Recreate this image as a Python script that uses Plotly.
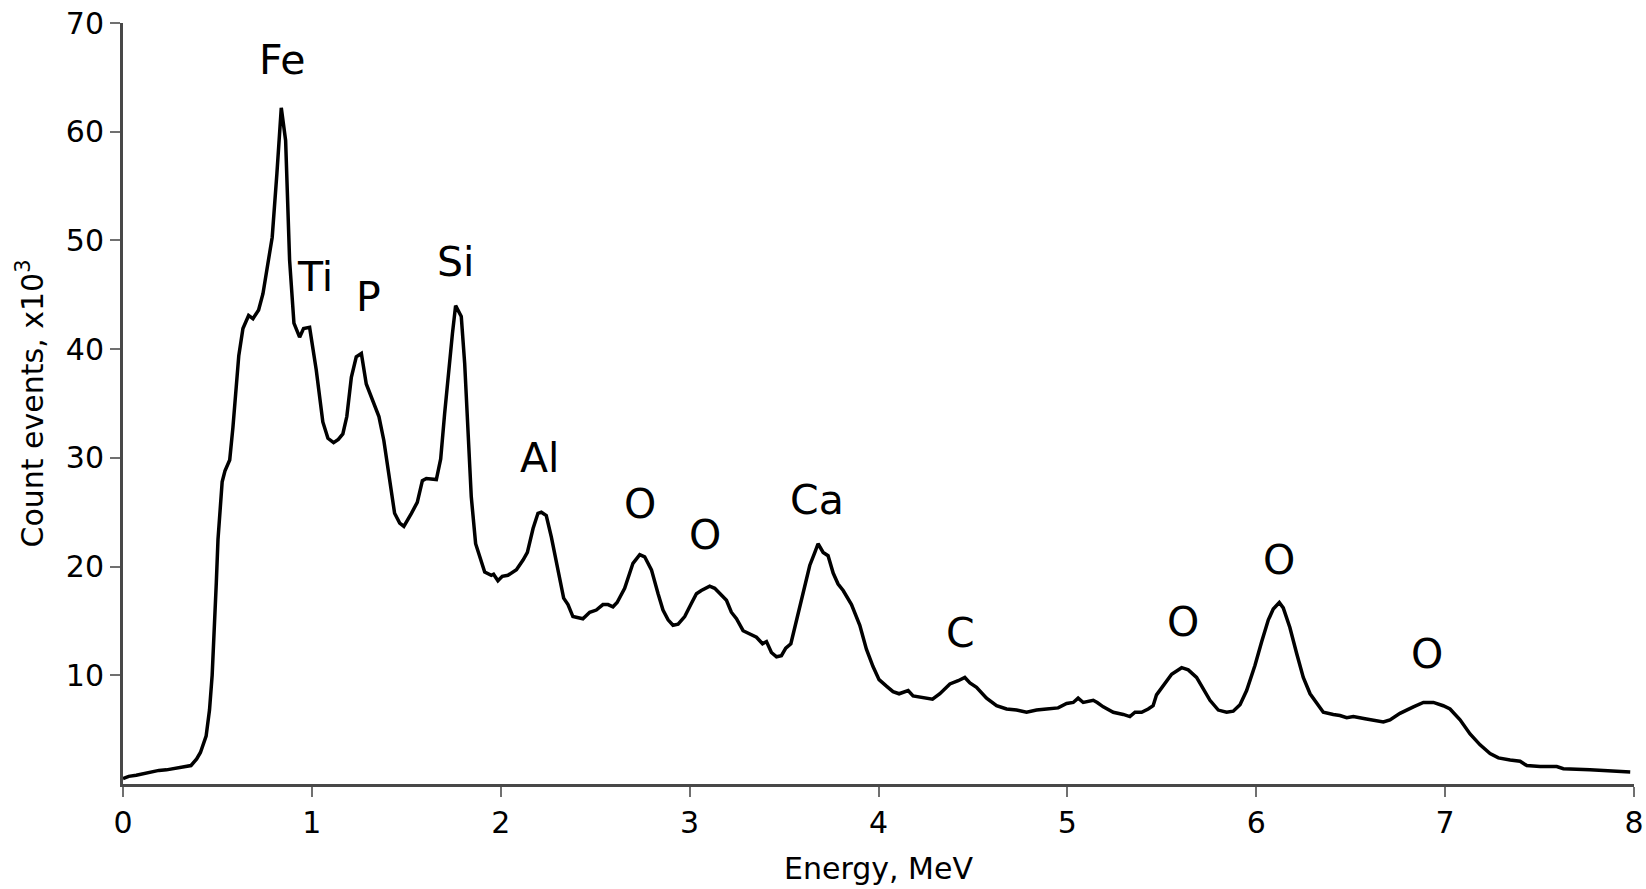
import plotly.graph_objects as go

# Energy (MeV) and count events (x10^3)
energy = [0.00, 0.03, 0.07, 0.14, 0.19, 0.23, 0.30, 0.36, 0.39, 0.41, 0.44, 0.458, 0.472, 0.485, 0.494,
          0.503, 0.512, 0.525, 0.54, 0.565, 0.582, 0.60, 0.613, 0.635, 0.665, 0.688, 0.718, 0.741, 0.767,
          0.79, 0.815, 0.838, 0.861, 0.882, 0.905, 0.935, 0.956, 0.988, 1.023, 1.058, 1.085, 1.115, 1.14,
          1.164, 1.185, 1.209, 1.235, 1.262, 1.288, 1.315, 1.355, 1.381, 1.412, 1.438, 1.465, 1.487, 1.527,
          1.558, 1.585, 1.606, 1.659, 1.682, 1.703, 1.726, 1.744, 1.761, 1.791, 1.809, 1.826, 1.844, 1.867,
          1.897, 1.915, 1.95, 1.962, 1.985, 2.008, 2.038, 2.083, 2.118, 2.141, 2.171, 2.197, 2.215, 2.241,
          2.268, 2.303, 2.333, 2.356, 2.382, 2.435, 2.471, 2.506, 2.541, 2.568, 2.594, 2.616, 2.656, 2.70,
          2.736, 2.762, 2.798, 2.833, 2.859, 2.886, 2.912, 2.939, 2.974, 3.009, 3.036, 3.062, 3.106, 3.133,
          3.159, 3.195, 3.221, 3.248, 3.283, 3.318, 3.354, 3.386, 3.407, 3.433, 3.46, 3.486, 3.509, 3.536,
          3.566, 3.601, 3.636, 3.663, 3.68, 3.707, 3.733, 3.76, 3.786, 3.813, 3.857, 3.901, 3.936, 3.971,
          4.003, 4.042, 4.077, 4.109, 4.157, 4.183, 4.228, 4.286, 4.325, 4.378, 4.422, 4.457, 4.484, 4.519,
          4.572, 4.625, 4.678, 4.731, 4.784, 4.837, 4.89, 4.951, 4.996, 5.031, 5.057, 5.084, 5.137, 5.158,
          5.19, 5.243, 5.296, 5.331, 5.358, 5.393, 5.428, 5.454, 5.472, 5.507, 5.552, 5.605, 5.64, 5.684,
          5.719, 5.755, 5.799, 5.843, 5.878, 5.914, 5.949, 5.993, 6.029, 6.064, 6.09, 6.122, 6.143, 6.178,
          6.214, 6.249, 6.285, 6.32, 6.355, 6.408, 6.443, 6.479, 6.514, 6.576, 6.62, 6.673, 6.708, 6.761,
          6.832, 6.885, 6.938, 6.99, 7.026, 7.079, 7.132, 7.185, 7.238, 7.282, 7.344, 7.397, 7.432, 7.503,
          7.591, 7.626, 7.767, 7.856, 7.98]

counts = [0.5, 0.7, 0.8, 1.05, 1.25, 1.3, 1.5, 1.7, 2.3, 2.9, 4.4, 6.8, 10.0, 14.5, 18.5,
          22.5, 24.8, 27.8, 28.8, 29.8, 32.8, 37.0, 39.4, 41.9, 43.1, 42.8, 43.6, 45.1, 47.9,
          50.3, 56.2, 62.2, 59.2, 48.2, 42.4, 41.1, 41.9, 42.0, 38.1, 33.3, 31.8, 31.4, 31.7,
          32.2, 33.8, 37.4, 39.3, 39.6, 36.8, 35.6, 33.8, 31.6, 27.9, 24.9, 24.0, 23.7, 24.9,
          25.9, 27.9, 28.1, 28.0, 29.9, 34.1, 38.7, 41.4, 44.0, 43.0, 38.7, 32.2, 26.4, 22.1,
          20.3, 19.5, 19.2, 19.3, 18.7, 19.1, 19.2, 19.7, 20.6, 21.3, 23.5, 24.9, 25.0, 24.7,
          22.7, 19.7, 17.1, 16.5, 15.4, 15.2, 15.8, 16.0, 16.5, 16.5, 16.3, 16.7, 18.0, 20.3,
          21.1, 20.9, 19.7, 17.5, 16.0, 15.1, 14.6, 14.7, 15.4, 16.6, 17.5, 17.8, 18.2, 18.0,
          17.5, 16.9, 15.8, 15.2, 14.1, 13.8, 13.5, 12.9, 13.1, 12.1, 11.7, 11.8, 12.5, 12.9,
          15.1, 17.8, 20.1, 21.3, 22.1, 21.3, 21.0, 19.4, 18.4, 17.8, 16.5, 14.6, 12.4, 10.8,
          9.6, 9.0, 8.5, 8.3, 8.6, 8.1, 8.0, 7.8, 8.3, 9.2, 9.5, 9.8, 9.3, 8.9,
          7.9, 7.2, 6.9, 6.8, 6.6, 6.8, 6.9, 7.0, 7.4, 7.5, 7.9, 7.5, 7.7, 7.5,
          7.1, 6.6, 6.4, 6.2, 6.6, 6.6, 6.9, 7.2, 8.2, 9.0, 10.1, 10.7, 10.5, 9.8,
          8.8, 7.7, 6.8, 6.6, 6.7, 7.3, 8.6, 10.9, 13.1, 15.1, 16.1, 16.7, 16.2, 14.4,
          12.0, 9.8, 8.3, 7.4, 6.6, 6.4, 6.3, 6.1, 6.2, 6.0, 5.9, 5.7, 5.9, 6.5,
          7.1, 7.5, 7.5, 7.2, 6.9, 5.9, 4.6, 3.6, 2.8, 2.4, 2.2, 2.1, 1.7, 1.6,
          1.6, 1.4, 1.3, 1.2, 1.1]

# Peak labels
label_text = ["Fe", "Ti", "P", "Si", "Al", "O", "O", "Ca", "C", "O", "O", "O"]
label_x = [0.842, 1.014, 1.30, 1.761, 2.206, 2.738, 3.082, 3.676, 4.434, 5.611, 6.122, 6.905]
label_y = [66.6, 46.6, 44.8, 48.0, 30.0, 25.8, 22.9, 26.1, 13.9, 14.9, 20.6, 12.0]

x_ticks = [0, 1, 2, 3, 4, 5, 6, 7, 8]
y_ticks = [10, 20, 30, 40, 50, 60, 70]

FONT = "DejaVu Sans"

fig = go.Figure()
fig.add_trace(go.Scatter(x=energy, y=counts, mode="lines",
                         line=dict(color="black", width=3.5), showlegend=False))

for t, x, y in zip(label_text, label_x, label_y):
    fig.add_annotation(x=x, y=y, text=t, showarrow=False, xanchor="center", yanchor="middle",
                       font=dict(family=FONT, size=41, color="black"))

axis_common = dict(showline=True, linecolor="#484848", linewidth=3, showgrid=False, zeroline=False,
                   ticks="outside", ticklen=10, tickwidth=2, tickcolor="#707070",
                   tickfont=dict(family=FONT, size=30, color="black"))

fig.update_xaxes(range=[0, 8], tickvals=x_ticks, ticktext=[str(v) for v in x_ticks],
                 title=dict(text="Energy, MeV", font=dict(family=FONT, size=30, color="black"), standoff=19),
                 **axis_common)
fig.update_yaxes(range=[0, 70], tickvals=y_ticks, ticktext=[str(v) for v in y_ticks],
                 title=dict(text="Count events, x10<sup>3</sup>", font=dict(family=FONT, size=30, color="black"), standoff=14),
                 **axis_common)

fig.update_layout(width=1646, height=889, margin=dict(l=123, r=12, t=23, b=105, autoexpand=False),
                  plot_bgcolor="white", paper_bgcolor="white", font=dict(family=FONT))

fig.write_html("out.html")
